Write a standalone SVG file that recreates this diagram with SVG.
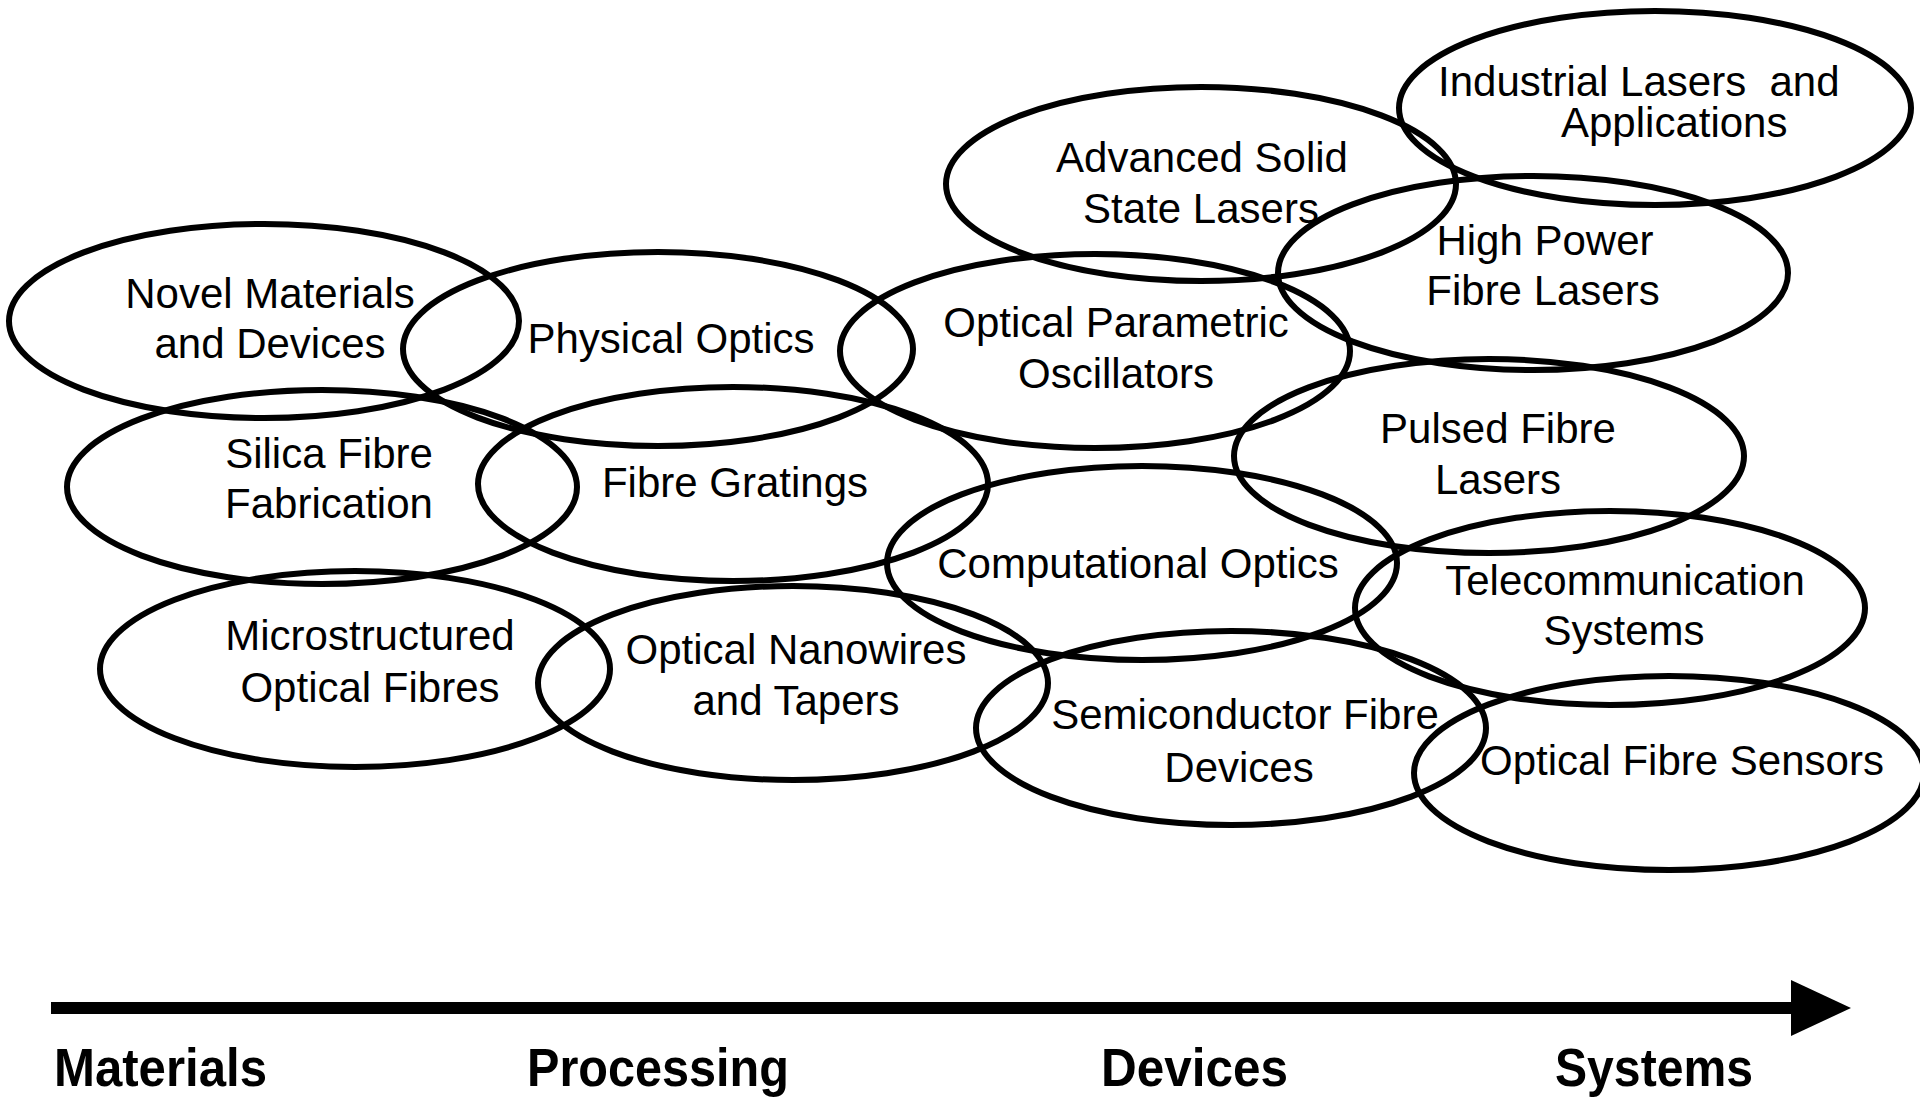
<svg xmlns="http://www.w3.org/2000/svg" width="1920" height="1097" viewBox="0 0 1920 1097">
<style>
.node ellipse{fill:none;stroke:#000;stroke-width:6}
.node text{font-family:"Liberation Sans",Arial,sans-serif;font-size:42px;fill:#000;text-anchor:middle}
.axis-label{font-family:"Liberation Sans",Arial,sans-serif;font-size:53px;font-weight:bold;fill:#000}
</style>
<rect x="0" y="0" width="1920" height="1097" fill="#fff"/>
<g id="node-novel-materials" class="node">
<ellipse cx="264" cy="321" rx="255" ry="97"/>
<text x="270" y="308">Novel Materials</text>
<text x="270" y="358">and Devices</text>
</g>
<g id="node-physical-optics" class="node">
<ellipse cx="658" cy="349" rx="255" ry="97"/>
<text x="671" y="353">Physical Optics</text>
</g>
<g id="node-opo" class="node">
<ellipse cx="1095" cy="351" rx="255" ry="97"/>
<text x="1116" y="337">Optical Parametric</text>
<text x="1116" y="388">Oscillators</text>
</g>
<g id="node-advanced-solid-state" class="node">
<ellipse cx="1201" cy="184" rx="255" ry="97"/>
<text x="1202" y="172">Advanced Solid</text>
<text x="1201" y="223">State Lasers</text>
</g>
<g id="node-industrial-lasers" class="node">
<ellipse cx="1655" cy="108" rx="256" ry="97"/>
<text x="1438" y="96" style="text-anchor:start" xml:space="preserve">Industrial Lasers  and</text>
<text x="1561" y="137" style="text-anchor:start">Applications</text>
</g>
<g id="node-high-power" class="node">
<ellipse cx="1533" cy="273" rx="255" ry="97"/>
<text x="1545" y="255">High Power</text>
<text x="1543" y="305">Fibre Lasers</text>
</g>
<g id="node-silica" class="node">
<ellipse cx="322" cy="487" rx="255" ry="97"/>
<text x="329" y="468">Silica Fibre</text>
<text x="329" y="518">Fabrication</text>
</g>
<g id="node-fibre-gratings" class="node">
<ellipse cx="733" cy="484" rx="255" ry="97"/>
<text x="735" y="497">Fibre Gratings</text>
</g>
<g id="node-pulsed" class="node">
<ellipse cx="1489" cy="456" rx="255" ry="97"/>
<text x="1498" y="443">Pulsed Fibre</text>
<text x="1498" y="494">Lasers</text>
</g>
<g id="node-computational" class="node">
<ellipse cx="1142" cy="563" rx="255" ry="97"/>
<text x="1138" y="578">Computational Optics</text>
</g>
<g id="node-telecom" class="node">
<ellipse cx="1610" cy="608" rx="255" ry="97"/>
<text x="1625" y="595">Telecommunication</text>
<text x="1624" y="645">Systems</text>
</g>
<g id="node-microstructured" class="node">
<ellipse cx="355" cy="669" rx="255" ry="98"/>
<text x="370" y="650">Microstructured</text>
<text x="370" y="702">Optical Fibres</text>
</g>
<g id="node-nanowires" class="node">
<ellipse cx="793" cy="683" rx="255" ry="97"/>
<text x="796" y="664">Optical Nanowires</text>
<text x="796" y="715">and Tapers</text>
</g>
<g id="node-semiconductor" class="node">
<ellipse cx="1231" cy="728" rx="255" ry="97"/>
<text x="1245" y="729">Semiconductor Fibre</text>
<text x="1239" y="782">Devices</text>
</g>
<g id="node-sensors" class="node">
<ellipse cx="1669" cy="773" rx="255" ry="97"/>
<text x="1682" y="775">Optical Fibre Sensors</text>
</g>
<g id="connectors">
<rect x="51" y="1002" width="1742" height="12" fill="#000"/>
<polygon points="1791,980 1851,1008 1791,1036" fill="#000"/>
</g>
<g id="axis-labels">
<text class="axis-label" x="54" y="1086" textLength="213" lengthAdjust="spacingAndGlyphs">Materials</text>
<text class="axis-label" x="527" y="1086" textLength="262" lengthAdjust="spacingAndGlyphs">Processing</text>
<text class="axis-label" x="1101" y="1086" textLength="187" lengthAdjust="spacingAndGlyphs">Devices</text>
<text class="axis-label" x="1555" y="1086" textLength="198" lengthAdjust="spacingAndGlyphs">Systems</text>
</g>
</svg>
